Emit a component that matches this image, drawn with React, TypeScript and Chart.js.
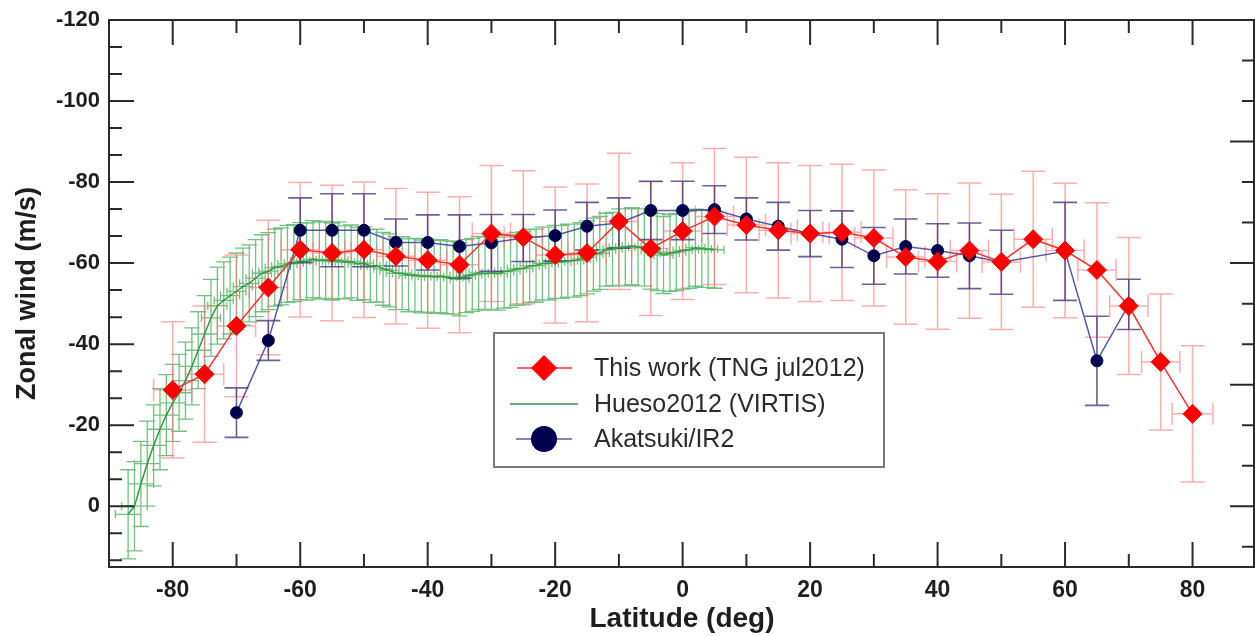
import { useEffect, useRef } from 'react';
import { Chart, registerables } from 'chart.js';

Chart.register(...registerables);

const FONT = '"Liberation Sans", Arial, sans-serif';

// ---- This work (TNG jul2012) ----
const RED_LAT = [-80, -75, -70, -65, -60, -55, -50, -45, -40, -35, -30, -25, -20, -15, -10, -5, 0, 5, 10, 15, 20, 25, 30, 35, 40, 45, 50, 55, 60, 65, 70, 75, 80];
const RED_WIND = [-28.7, -32.6, -44.5, -54, -63.3, -62.5, -63.3, -61.7, -60.7, -59.6, -67.3, -66.4, -62, -62.5, -70.3, -63.6, -67.9, -71.5, -69.4, -68.1, -67.3, -67.6, -66.2, -61.5, -60.4, -63.1, -60.3, -65.9, -63.1, -58.3, -49.4, -35.6, -22.8];
const RED_YERR = [16.8, 16.8, 17.5, 16.6, 16.6, 16.7, 16.7, 16.7, 16.8, 16.8, 16.8, 16.4, 16.8, 17, 16.8, 16.5, 16.9, 16.8, 16.7, 16.7, 16.8, 16.8, 16.8, 16.6, 16.7, 16.7, 16.7, 16.8, 16.6, 16.6, 16.9, 16.8, 16.8];
const RED_XERR = [3, 3, 3, 3, 3, 3, 3, 3, 3, 3, 3, 3, 3, 3, 3, 3, 3, 3, 3, 3, 3, 3, 3, 3, 3, 3, 3, 3, 3, 3, 3, 3, 3.2];

// ---- Akatsuki/IR2 ----
const BLUE_LAT = [-70, -65, -60, -55, -50, -45, -40, -35, -30, -25, -20, -15, -10, -5, 0, 5, 10, 15, 20, 25, 30, 35, 40, 45, 50, 60, 65, 70];
const BLUE_WIND = [-23.1, -40.9, -68.1, -68.1, -68.1, -65.1, -65.1, -64.1, -65, -66.2, -66.8, -69.1, -69.9, -73, -73, -73.2, -70.9, -69.1, -67.3, -65.9, -61.8, -64.1, -63.1, -61.8, -60.2, -62.9, -35.9, -49.8];
const BLUE_YERR = [6.1, 4.9, 8, 9, 9, 5.8, 6.8, 7.8, 7, 5.8, 6.3, 5.9, 6.2, 7.2, 7.2, 5.9, 5.2, 5.9, 5.7, 7, 7, 6.8, 6.6, 8.1, 7.9, 12.1, 11, 6.2];

// ---- Hueso2012 (VIRTIS) ----
const GREEN_LAT = [-87, -86, -85, -84, -83, -82, -81, -80, -79, -78, -77, -76, -75, -74, -73, -72, -71, -70, -69, -68, -67, -66, -65, -64, -63, -62, -61, -60, -59, -58, -57, -56, -55, -54, -53, -52, -51, -50, -49, -48, -47, -46, -45, -44, -43, -42, -41, -40, -39, -38, -37, -36, -35, -34, -33, -32, -31, -30, -29, -28, -27, -26, -25, -24, -23, -22, -21, -20, -19, -18, -17, -16, -15, -14, -13, -12, -11, -10, -9, -8, -7, -6, -5, -4, -3, -2, -1, 0, 1, 2, 3, 4, 5];
const GREEN_WIND = [2, 0, -5.5, -10.5, -15, -19, -22.5, -25.5, -28, -31, -34.5, -38.5, -42.5, -46.5, -49.5, -50.8, -52, -53, -54.2, -55, -56.3, -57.5, -58, -58.9, -59.2, -59.8, -60, -60.5, -60.4, -61, -60.6, -60.8, -60.4, -60.7, -60.2, -60.4, -59.8, -60, -59.3, -59.4, -58.6, -58.2, -57.5, -57.5, -57, -57.1, -56.7, -56.9, -56.6, -56.8, -56.5, -56.4, -56, -56.8, -57.1, -57.6, -57.4, -57.6, -57.4, -57.9, -58.1, -58.6, -58.7, -59.3, -59.4, -59.9, -59.9, -60.3, -60.3, -60.6, -60.6, -61, -61.4, -62.1, -62.5, -63.3, -63.5, -63.9, -63.9, -64.2, -63.9, -63.9, -63.1, -62.7, -62, -62.5, -62.7, -63.1, -63.3, -63.8, -63.5, -63.5, -63.3];
const GREEN_YERR = [11, 11, 10.5, 10.5, 10, 10, 10, 9.5, 9.5, 9.5, 9.5, 9.5, 9.5, 9.5, 9.5, 9.5, 9.5, 9.5, 9.5, 9.5, 9.5, 9.5, 9.5, 9.5, 9.5, 9.5, 9.5, 9.5, 9.5, 9.5, 9.5, 9.5, 9.5, 9.5, 9, 9, 9, 9, 9, 9, 9, 9, 9, 9, 9, 9, 9, 9, 9, 9, 9, 9, 9, 9, 9, 9, 9, 9, 9, 9, 9, 9, 9, 9, 9, 9, 9, 9, 9, 9, 9, 9, 9, 9, 9, 9, 9, 9.5, 9.5, 9.5, 9.5, 9.5, 9.5, 9.5, 9.5, 9.5, 9.5, 9.5, 9.5, 9.5, 9.5, 9.5, 9.5];
const GREEN_XERR = [2, 2, 2, 2, 2, 2, 2, 2, 2, 2, 2, 2, 2, 1.5, 1.5, 1.5, 1.5, 1.5, 1.5, 1.5, 1.5, 1.5, 1.5, 1.5, 1.5, 1.5, 1.5, 1.5, 1.5, 1.5, 1.5, 1.5, 1.5, 1.5, 1.5, 1.5, 1.5, 1.5, 1.5, 1.5, 1.5, 1.5, 1.5, 1.5, 1.5, 1.5, 1.5, 1.5, 1.5, 1.5, 1.5, 1.5, 1.5, 1.5, 1.5, 1.5, 1.5, 1.5, 1.5, 1.5, 1.5, 1.5, 1.5, 1.5, 1.5, 1.5, 1.5, 1.5, 1.5, 1.5, 1.5, 1.5, 1.5, 1.5, 1.5, 1.5, 1.5, 1.5, 1.5, 1.5, 1.5, 1.5, 1.5, 1.5, 1.5, 1.5, 1.5, 1.5, 1.5, 1.5, 1.5, 1.5, 1.5];

const X_TICKS = [-80, -60, -40, -20, 0, 20, 40, 60, 80];
const Y_TICKS = [-120, -100, -80, -60, -40, -20, 0];
const LEGEND_LABELS = ['This work (TNG jul2012)', 'Hueso2012 (VIRTIS)', 'Akatsuki/IR2'];

const RED_COLOR = '#ff0000';
const RED_LINE = '#ff3030';
const RED_ERR = 'rgba(255, 120, 120, 0.6)';
const BLUE_FILL = '#00004d';
const BLUE_LINE = 'rgba(60, 60, 150, 0.85)';
const BLUE_ERR = 'rgba(55, 45, 120, 0.75)';
const GREEN_LINE = '#2f9a42';
const GREEN_ERR = 'rgba(40, 160, 60, 0.65)';

// plot frame placement (pixels)
const AREA = { left: 109, right: 1255, top: 20, bottom: 567 };

function drawErrors(ctx: CanvasRenderingContext2D, xs: any, ys: any, lat: number[], val: number[], yerr: number[], xerr: number[] | null, color: string, capY: number, capX: number, width: number) {
  ctx.strokeStyle = color;
  ctx.lineWidth = width;
  ctx.beginPath();
  for (let i = 0; i < lat.length; i++) {
    const px = xs.getPixelForValue(lat[i]);
    const py = ys.getPixelForValue(val[i]);
    const t = ys.getPixelForValue(val[i] - yerr[i]);
    const b = ys.getPixelForValue(val[i] + yerr[i]);
    ctx.moveTo(px, t); ctx.lineTo(px, b);
    ctx.moveTo(px - capY, t); ctx.lineTo(px + capY, t);
    ctx.moveTo(px - capY, b); ctx.lineTo(px + capY, b);
    if (xerr) {
      const l = xs.getPixelForValue(lat[i] - xerr[i]);
      const r = xs.getPixelForValue(lat[i] + xerr[i]);
      ctx.moveTo(l, py); ctx.lineTo(r, py);
      ctx.moveTo(l, py - capX); ctx.lineTo(l, py + capX);
      ctx.moveTo(r, py - capX); ctx.lineTo(r, py + capX);
    }
  }
  ctx.stroke();
}

const areaPlugin = {
  id: 'fixArea',
  afterLayout(chart: any) {
    const { left, right, top, bottom } = AREA;
    const ca = chart.chartArea;
    ca.left = left; ca.right = right; ca.top = top; ca.bottom = bottom;
    ca.width = right - left; ca.height = bottom - top;
    const x = chart.scales.x;
    const y = chart.scales.y;
    x.left = left; x.right = right; x.width = right - left;
    x.top = bottom; x.bottom = chart.height; x.height = chart.height - bottom;
    y.left = 0; y.right = left; y.width = left;
    y.top = top; y.bottom = bottom; y.height = bottom - top;
    x.configure();
    y.configure();
  },
};

const errorBarPlugin = {
  id: 'errorBars',
  beforeDatasetsDraw(chart: any) {
    const { ctx, scales } = chart;
    ctx.save();
    drawErrors(ctx, scales.x, scales.y, GREEN_LAT, GREEN_WIND, GREEN_YERR, GREEN_XERR, GREEN_ERR, 8, 4, 1.3);
    drawErrors(ctx, scales.x, scales.y, RED_LAT, RED_WIND, RED_YERR, RED_XERR, RED_ERR, 12, 11, 1.5);
    drawErrors(ctx, scales.x, scales.y, BLUE_LAT, BLUE_WIND, BLUE_YERR, null, BLUE_ERR, 12, 0, 1.6);
    ctx.restore();
  },
};

const framePlugin = {
  id: 'frameTicks',
  afterDatasetsDraw(chart: any) {
    const { ctx, chartArea, scales } = chart;
    const xs = scales.x;
    const ys = scales.y;
    const left = chartArea.left;
    const right = chartArea.right - 1;
    const top = chartArea.top;
    const bottom = chartArea.bottom;
    ctx.save();
    ctx.strokeStyle = '#2a2a2a';
    ctx.lineWidth = 2;
    ctx.beginPath();
    for (let k = 0; k <= 20; k++) {
      const v = -120 + (k * 20) / 3;
      if (v > 15) break;
      const py = ys.getPixelForValue(v);
      const len = k % 3 === 0 ? 25 : 13;
      ctx.moveTo(left, py); ctx.lineTo(left + len, py);
    }
    for (let v = -120; v <= 15; v += 10) {
      const py = ys.getPixelForValue(v);
      const len = v % 30 === 0 ? 24 : 12;
      ctx.moveTo(right, py); ctx.lineTo(right - len, py);
    }
    for (let v = -80; v <= 80; v += 10) {
      const px = xs.getPixelForValue(v);
      const len = v % 20 === 0 ? 25 : 13;
      ctx.moveTo(px, bottom); ctx.lineTo(px, bottom - len);
      ctx.moveTo(px, top); ctx.lineTo(px, top + len);
    }
    ctx.stroke();
    ctx.strokeRect(left, top, right - left, bottom - top);
    ctx.restore();
  },
};

const legendPlugin = {
  id: 'boxLegend',
  afterDraw(chart: any) {
    const { ctx } = chart;
    const bx = 494, by = 333, bw = 390, bh = 134;
    ctx.save();
    ctx.fillStyle = '#ffffff';
    ctx.fillRect(bx, by, bw, bh);
    ctx.strokeStyle = '#7a7a7a';
    ctx.lineWidth = 2;
    ctx.strokeRect(bx, by, bw, bh);
    const rows = [368, 404, 439];
    const mx = 544;
    ctx.strokeStyle = RED_LINE; ctx.lineWidth = 1.5;
    ctx.beginPath(); ctx.moveTo(517, rows[0]); ctx.lineTo(572, rows[0]); ctx.stroke();
    ctx.fillStyle = RED_COLOR;
    ctx.beginPath();
    ctx.moveTo(mx - 13, rows[0]); ctx.lineTo(mx, rows[0] - 13); ctx.lineTo(mx + 13, rows[0]); ctx.lineTo(mx, rows[0] + 13);
    ctx.closePath(); ctx.fill();
    ctx.strokeStyle = GREEN_LINE; ctx.lineWidth = 1.5;
    ctx.beginPath(); ctx.moveTo(510, rows[1]); ctx.lineTo(578, rows[1]); ctx.stroke();
    ctx.strokeStyle = BLUE_LINE; ctx.lineWidth = 1.5;
    ctx.beginPath(); ctx.moveTo(516, rows[2]); ctx.lineTo(572, rows[2]); ctx.stroke();
    ctx.fillStyle = BLUE_FILL;
    ctx.beginPath(); ctx.arc(mx, rows[2], 13, 0, Math.PI * 2); ctx.fill();
    ctx.fillStyle = '#2b2b2b';
    ctx.font = `25px ${FONT}`;
    ctx.textBaseline = 'middle';
    ctx.textAlign = 'left';
    LEGEND_LABELS.forEach((t, i) => ctx.fillText(t, 594, rows[i] + 1));
    ctx.restore();
  },
};

export default function App() {
  const ref = useRef<HTMLCanvasElement>(null);
  useEffect(() => {
    document.body.style.margin = '0';
    const canvas = ref.current;
    if (!canvas) return;
    const chart = new Chart(canvas, {
      type: 'scatter',
      data: {
        datasets: [
          {
            label: LEGEND_LABELS[0],
            data: RED_LAT.map((x, i) => ({ x, y: RED_WIND[i] })),
            showLine: true,
            borderColor: RED_LINE,
            borderWidth: 1.5,
            pointStyle: 'rectRot',
            pointRadius: 9.5,
            pointBackgroundColor: RED_COLOR,
            pointBorderColor: RED_COLOR,
            pointBorderWidth: 1,
            tension: 0,
          },
          {
            label: LEGEND_LABELS[2],
            data: BLUE_LAT.map((x, i) => ({ x, y: BLUE_WIND[i] })),
            showLine: true,
            borderColor: BLUE_LINE,
            borderWidth: 1.5,
            pointStyle: 'circle',
            pointRadius: 6,
            pointBackgroundColor: BLUE_FILL,
            pointBorderColor: BLUE_FILL,
            pointBorderWidth: 1,
            tension: 0,
          },
          {
            label: LEGEND_LABELS[1],
            data: GREEN_LAT.map((x, i) => ({ x, y: GREEN_WIND[i] })),
            showLine: true,
            borderColor: GREEN_LINE,
            borderWidth: 1.5,
            pointRadius: 0,
            tension: 0,
          },
        ],
      },
      options: {
        animation: false,
        responsive: false,
        maintainAspectRatio: false,
        events: [],
        layout: { padding: { top: 20, right: 0, left: 0, bottom: 0 } },
        plugins: { legend: { display: false }, tooltip: { enabled: false } },
        scales: {
          x: {
            type: 'linear',
            min: -90,
            max: 89.8,
            afterBuildTicks: (s: any) => { s.ticks = X_TICKS.map((v) => ({ value: v })); },
            afterFit: (s: any) => { s.height = 69; },
            grid: { display: false, drawTicks: false },
            border: { display: false },
            ticks: {
              color: '#1e1e1e',
              font: { family: FONT, size: 23, weight: 'bold' },
              padding: 10,
              maxRotation: 0,
              autoSkip: false,
              callback: (v: any) => String(v),
            },
            title: {
              display: true,
              text: 'Latitude (deg)',
              color: '#1e1e1e',
              font: { family: FONT, size: 28, weight: 'bold' },
              padding: { top: 0, bottom: 0 },
            },
          },
          y: {
            type: 'linear',
            reverse: true,
            min: -120,
            max: 15,
            afterBuildTicks: (s: any) => { s.ticks = Y_TICKS.map((v) => ({ value: v })); },
            afterFit: (s: any) => { s.width = 109; },
            grid: { display: false, drawTicks: false },
            border: { display: false },
            ticks: {
              color: '#1e1e1e',
              font: { family: FONT, size: 22, weight: 'bold' },
              padding: 9,
              autoSkip: false,
              callback: (v: any) => String(v),
            },
            title: {
              display: true,
              text: 'Zonal wind (m/s)',
              color: '#1e1e1e',
              font: { family: FONT, size: 27, weight: 'bold' },
              padding: { top: 11, bottom: 0 },
            },
          },
        },
      },
      plugins: [areaPlugin, errorBarPlugin, framePlugin, legendPlugin],
    } as any);
    return () => chart.destroy();
  }, []);
  return <canvas ref={ref} width={1255} height={636} style={{ display: 'block' }} />;
}
